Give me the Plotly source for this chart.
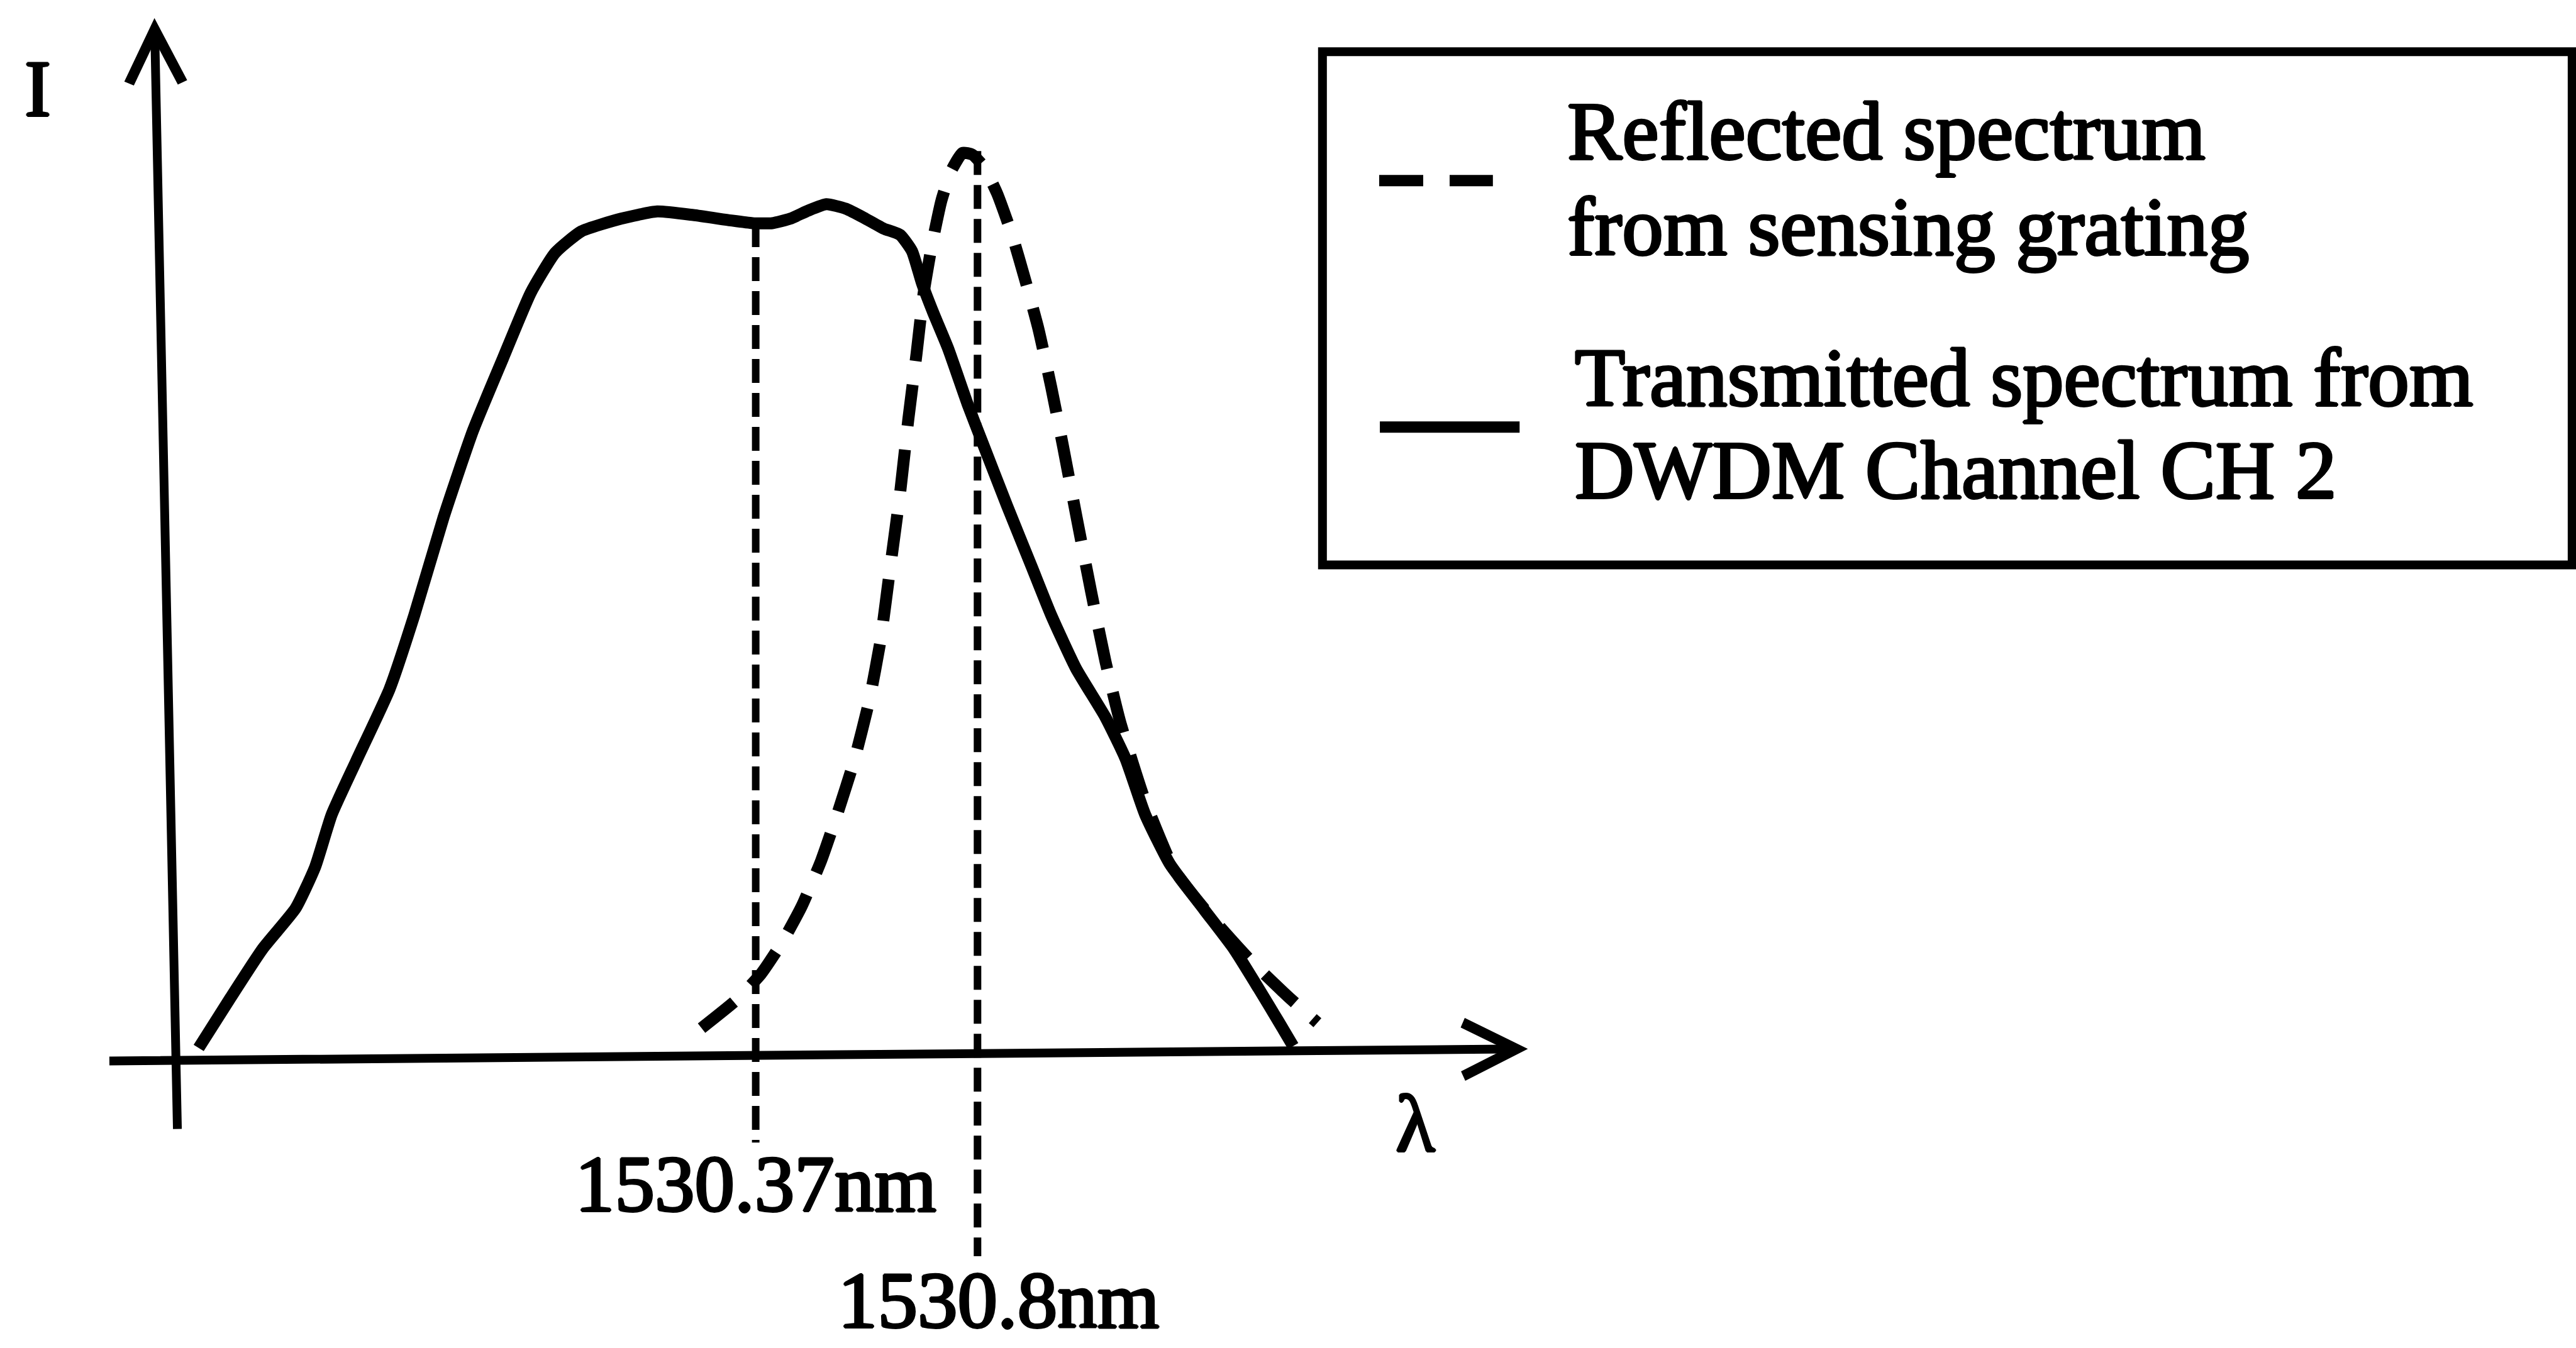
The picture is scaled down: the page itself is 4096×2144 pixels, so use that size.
import plotly.graph_objects as go

# ---------------- data ----------------
# Transmitted spectrum from DWDM channel CH 2 (solid)
trans_wl = [1529.290, 1529.351, 1529.414, 1529.478, 1529.516, 1529.548, 1529.596,
            1529.660, 1529.708, 1529.765, 1529.822, 1529.880, 1529.934, 1529.981,
            1530.032, 1530.109, 1530.179, 1530.249, 1530.322, 1530.364, 1530.402,
            1530.437, 1530.472, 1530.507, 1530.545, 1530.583, 1530.618, 1530.650,
            1530.673, 1530.692, 1530.714, 1530.743, 1530.781, 1530.810, 1530.857,
            1530.905, 1530.943, 1530.991, 1531.048, 1531.087, 1531.125, 1531.173,
            1531.240, 1531.297, 1531.345, 1531.383, 1531.412]
trans_int = [0.005, 0.060, 0.115, 0.160, 0.206, 0.264, 0.324,
             0.403, 0.485, 0.594, 0.690, 0.770, 0.843, 0.887,
             0.911, 0.925, 0.933, 0.929, 0.923, 0.920, 0.920,
             0.925, 0.934, 0.941, 0.936, 0.925, 0.914, 0.907,
             0.889, 0.854, 0.821, 0.781, 0.719, 0.676, 0.607,
             0.539, 0.485, 0.426, 0.372, 0.326, 0.264, 0.209,
             0.158, 0.115, 0.071, 0.035, 0.007]

# Reflected spectrum from sensing grating (dashed)
refl_wl = [1530.265, 1530.332, 1530.380, 1530.421, 1530.459, 1530.497, 1530.529,
           1530.561, 1530.590, 1530.612, 1530.631, 1530.650, 1530.666, 1530.682,
           1530.695, 1530.711, 1530.730, 1530.749, 1530.771, 1530.790, 1530.813,
           1530.838, 1530.867, 1530.892, 1530.918, 1530.943, 1530.966, 1530.991,
           1531.020, 1531.048, 1531.077, 1531.125, 1531.182, 1531.249, 1531.326,
           1531.402, 1531.459]
refl_int = [0.027, 0.058, 0.087, 0.122, 0.162, 0.213, 0.266,
            0.324, 0.390, 0.457, 0.539, 0.621, 0.703, 0.776,
            0.840, 0.894, 0.945, 0.978, 0.998, 0.996, 0.982,
            0.953, 0.907, 0.858, 0.803, 0.738, 0.672, 0.597,
            0.512, 0.434, 0.366, 0.279, 0.202, 0.153, 0.104,
            0.062, 0.033]

# marked wavelengths (thin dashed drop lines)
marker_wl = [1530.37, 1530.8]
marker_top = [0.920, 1.000]
marker_bottom = [-0.100, -0.226]
marker_labels = ["1530.37nm", "1530.8nm"]

legend_labels = [["Reflected spectrum", "from sensing grating"],
                 ["Transmitted spectrum from", "DWDM Channel CH 2"]]

FONT = "Liberation Serif"
BLACK = "#000000"
# slight stroke thickening, like the heavy scanned type of the original
SHADOW = ("2px 0 0 #000, -2px 0 0 #000, 0 2px 0 #000, 0 -2px 0 #000, "
          "1px 1px 0 #000, -1px -1px 0 #000, 1px -1px 0 #000, -1px 1px 0 #000")


def tfont(size):
    return dict(family=FONT, size=size, color=BLACK, shadow=SHADOW)


fig = go.Figure()

# thin vertical dashed lines at the marked wavelengths
for wl, top, bot in zip(marker_wl, marker_top, marker_bottom):
    fig.add_trace(go.Scatter(x=[wl, wl], y=[top, bot], mode="lines",
                             line=dict(color=BLACK, width=12, dash="38px,16px"),
                             hoverinfo="skip"))

fig.add_trace(go.Scatter(x=trans_wl, y=trans_int, mode="lines",
                         line=dict(color=BLACK, width=19, shape="spline", smoothing=0.5),
                         name="Transmitted"))
fig.add_trace(go.Scatter(x=refl_wl, y=refl_int, mode="lines",
                         line=dict(color=BLACK, width=19, dash="66px,38px",
                                   shape="spline", smoothing=0.5),
                         name="Reflected"))

# wavelength labels under the drop lines
fig.add_annotation(x=marker_wl[0], y=-0.146, xref="x", yref="y", text=marker_labels[0],
                   showarrow=False, xanchor="center", yanchor="middle",
                   font=tfont(127))
fig.add_annotation(x=marker_wl[1], y=-0.275, xref="x", yref="y", text=marker_labels[1],
                   showarrow=False, xanchor="center", yanchor="middle", xshift=34,
                   font=tfont(127))

# axes drawn as arrows
fig.add_annotation(x=0.05996, y=0.98661, xref="paper", yref="paper",
                   ax=36.5, ay=1768.5, axref="pixel", ayref="pixel", text="",
                   showarrow=True, arrowhead=5, arrowsize=1.19, arrowwidth=14,
                   arrowcolor=BLACK)
fig.add_annotation(x=0.59312, y=0.22192, xref="paper", yref="paper",
                   ax=-2257, ay=19.3, axref="pixel", ayref="pixel", text="",
                   showarrow=True, arrowhead=5, arrowsize=1.19, arrowwidth=14,
                   arrowcolor=BLACK)

# axis letters
fig.add_annotation(x=0.01467, y=0.93421, xref="paper", yref="paper", text="I",
                   showarrow=False, xanchor="center", yanchor="middle",
                   font=tfont(126))
fig.add_annotation(x=0.5494, y=0.1666, xref="paper", yref="paper", text="λ",
                   showarrow=False, xanchor="center", yanchor="middle",
                   font=tfont(130))

# legend box (drawn by hand so that the samples match the drawing)
fig.add_shape(type="rect", xref="paper", yref="paper",
              x0=0.51338, x1=0.9985, y0=0.58088, y1=0.96162,
              line=dict(color=BLACK, width=14), fillcolor="rgba(0,0,0,0)")
fig.add_shape(type="line", xref="paper", yref="paper",
              x0=0.53540, x1=0.57954, y0=0.86600, y1=0.86600,
              line=dict(color=BLACK, width=18, dash="70px,42px"))
fig.add_shape(type="line", xref="paper", yref="paper",
              x0=0.53566, x1=0.58991, y0=0.68321, y1=0.68321,
              line=dict(color=BLACK, width=18))

legend_x = [0.60779, 0.61096]
legend_y = [[0.90252, 0.83186], [0.71977, 0.65154]]
for lines, lx, lys in zip(legend_labels, legend_x, legend_y):
    for txt, ly in zip(lines, lys):
        fig.add_annotation(x=lx, y=ly, xref="paper", yref="paper", text=txt,
                           showarrow=False, xanchor="left", yanchor="middle",
                           font=tfont(131))

fig.update_layout(
    width=4096, height=2144,
    margin=dict(l=0, r=0, t=0, b=0),
    paper_bgcolor="white", plot_bgcolor="white",
    showlegend=False,
    xaxis=dict(range=[1528.90481, 1533.89919], visible=False, fixedrange=True),
    yaxis=dict(range=[-0.327869, 1.167577], visible=False, fixedrange=True),
)

fig.write_html("out.html")
